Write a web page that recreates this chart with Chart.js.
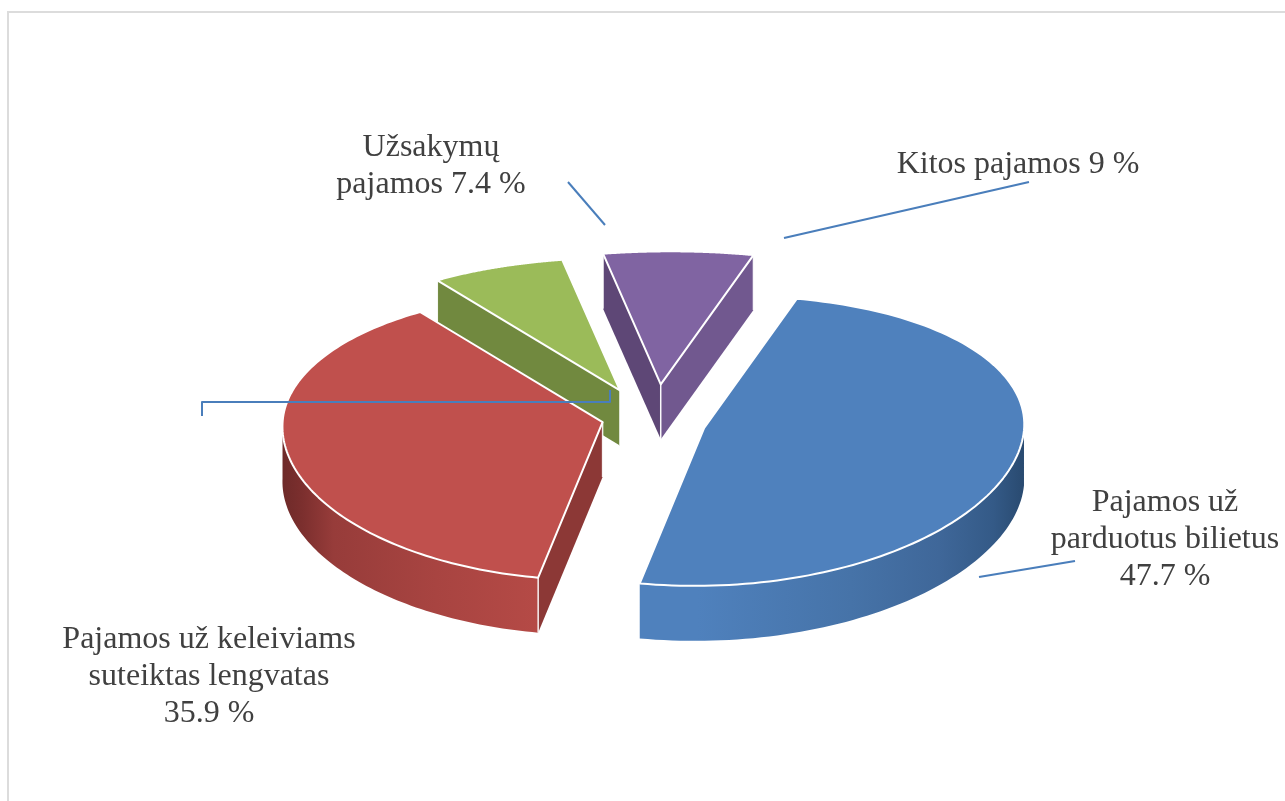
<!DOCTYPE html>
<html lang="lt">
<head>
<meta charset="utf-8">
<title>Pajamos</title>
<script src="https://cdn.jsdelivr.net/npm/chart.js@4"></script>
<style>
  html, body { margin: 0; height: 100%; background: #fff; overflow: hidden; }
  #frame { position: absolute; left: 7px; top: 11px; width: 1400px; height: 900px; border: 2px solid #dcdcdc; }
  #pie { position: absolute; left: 0; top: 0; }
</style>
</head>
<body>
<div id="frame"></div>
<canvas id="pie" width="1285" height="801"></canvas>
<script>
const categories = ['Pajamos už parduotus bilietus', 'Pajamos už keleiviams suteiktas lengvatas', 'Užsakymų pajamos', 'Kitos pajamos'];
const shares = [47.7, 35.9, 7.4, 9];

const topColors = ['#4f81bd', '#c0504d', '#9bbb59', '#8064a2'];
const explode = [50, 55, 76, 78];
// hand tuned, the green slice does not sit quite on its radial line in the original
const tipNudge = [[0, 0], [0, 0], [-3, 4], [0, 0]];
// side colours: radial wall at the start / end of each slice
const startWall = [null, '#8c3836', '#71893f', '#5e4776'];
const endWall = [null, null, null, '#71588f'];
const rimStops = [
  [[0, '#4f81bd'], [0.15, '#4f81bd'], [0.55, '#4673a8'], [0.78, '#3f6799'], [0.92, '#345a87'], [1, '#294a70']],
  [[0, '#6e2a29'], [0.08, '#7c2f2e'], [0.2, '#973c3a'], [0.6, '#a84441'], [1, '#b54a46']],
  [[0, '#71893f'], [1, '#71893f']],
  [[0, '#71588f'], [1, '#71588f']],
];
const drawOrder = [3, 2, 1, 0];
const DEPTH = 55;

// labels, with the wrapping and positions the original uses
const labelBlocks = [
  { x: 1165, y: 503, lines: ['Pajamos už', 'parduotus bilietus', shares[0] + ' %'] },
  { x: 209, y: 640, lines: ['Pajamos už keleiviams', 'suteiktas lengvatas', shares[1] + ' %'] },
  { x: 431, y: 148, lines: ['Užsakymų', 'pajamos ' + shares[2] + ' %'] },
  { x: 1018, y: 165, lines: ['Kitos pajamos ' + shares[3] + ' %'] },
];
const leaders = [
  [[979, 577], [1075, 561]],
  [[202, 416], [202, 402], [610, 402], [610, 390]],
  [[568, 182], [605, 225]],
  [[784, 238], [1029, 182]],
];

// the disc is seen in perspective: rear narrower than the front, and slightly skewed
function planeX(u, v, R) {
  const f = v < 0 ? 1 - 0.17 * v * v : 1 + 0.02 * v * v;
  return R * u * f - 9.5 * v * R / 320;
}
function rimY(v, R) {
  const y = v < 0 ? 163 * v - 30 * v * v * v : 146.5 * v + 11.5 * v * v;
  return y * R / 320;
}

const pie3d = {
  id: 'pie3d',
  beforeDatasetDraw(chart) {
    const { ctx } = chart;
    const arcs = chart.getDatasetMeta(0).data;
    drawOrder.forEach(i => {
      const arc = arcs[i];
      const R = arc.outerRadius;
      const s = arc.startAngle, e = arc.endAngle, mid = (s + e) / 2;
      // exploded slice: shift its tip outwards along the middle of the slice
      const ou = Math.cos(mid) * arc.options.offset / R, ov = Math.sin(mid) * arc.options.offset / R;
      const ox = planeX(ou, ov, R);
      const ax = arc.x + ox + tipNudge[i][0];
      const ay = arc.y + (146.5 * ov + 11.5 * ov * ov) * R / 320 + 0.07 * ox + tipNudge[i][1];
      const at = a => [ax + planeX(Math.cos(a), Math.sin(a), R), ay + rimY(Math.sin(a), R)];
      const N = 120, pts = [];
      for (let n = 0; n <= N; n++) pts.push(s + (e - s) * n / N);

      // outer rim: the part facing the viewer
      const front = pts.filter(a => Math.sin(a) >= 0);
      if (front.length > 1) {
        const xs = front.map(a => at(a)[0]);
        const g = ctx.createLinearGradient(Math.min(...xs), 0, Math.max(...xs), 0);
        rimStops[i].forEach(st => g.addColorStop(st[0], st[1]));
        ctx.beginPath();
        front.forEach((a, n) => { const p = at(a); n ? ctx.lineTo(p[0], p[1]) : ctx.moveTo(p[0], p[1]); });
        front.slice().reverse().forEach(a => { const p = at(a); ctx.lineTo(p[0], p[1] + DEPTH); });
        ctx.closePath();
        ctx.fillStyle = g;
        ctx.fill();
      }

      // radial walls
      const wall = (a, color) => {
        const p = at(a);
        ctx.beginPath();
        ctx.moveTo(ax, ay);
        ctx.lineTo(p[0], p[1]);
        ctx.lineTo(p[0], p[1] + DEPTH);
        ctx.lineTo(ax, ay + DEPTH);
        ctx.closePath();
        ctx.fillStyle = color;
        ctx.fill();
        ctx.beginPath();
        ctx.moveTo(ax, ay);
        ctx.lineTo(ax, ay + DEPTH);
        ctx.moveTo(p[0], p[1]);
        ctx.lineTo(p[0], p[1] + DEPTH);
        ctx.strokeStyle = 'rgba(255,255,255,.9)';
        ctx.lineWidth = 1.5;
        ctx.stroke();
      };
      if (startWall[i] && -Math.cos(s) > 0) wall(s, startWall[i]);
      if (endWall[i] && Math.cos(e) > 0) wall(e, endWall[i]);

      // top face
      ctx.beginPath();
      ctx.moveTo(ax, ay);
      pts.forEach(a => { const p = at(a); ctx.lineTo(p[0], p[1]); });
      ctx.closePath();
      ctx.fillStyle = arc.options.backgroundColor;
      ctx.fill();
      ctx.strokeStyle = '#fff';
      ctx.lineWidth = 2;
      ctx.lineJoin = 'round';
      ctx.stroke();
    });
    return false;
  },
  afterDraw(chart) {
    const { ctx } = chart;
    ctx.save();
    ctx.strokeStyle = '#4a7ebb';
    ctx.lineWidth = 2;
    leaders.forEach(line => {
      ctx.beginPath();
      line.forEach((p, n) => n ? ctx.lineTo(p[0], p[1]) : ctx.moveTo(p[0], p[1]));
      ctx.stroke();
    });
    ctx.fillStyle = '#404040';
    ctx.font = '32px "Liberation Serif"';
    ctx.textAlign = 'center';
    ctx.textBaseline = 'middle';
    labelBlocks.forEach(b => {
      b.lines.forEach((t, n) => ctx.fillText(t, b.x, b.y + n * 37));
    });
    ctx.restore();
  },
};

new Chart(document.getElementById('pie'), {
  type: 'pie',
  data: {
    labels: categories,
    datasets: [{ data: shares, backgroundColor: topColors, offset: explode, borderWidth: 0 }],
  },
  options: {
    responsive: false,
    animation: false,
    rotation: 18,
    radius: 320,
    layout: { padding: { left: 27, top: 37 } },
    plugins: { legend: { display: false }, tooltip: { enabled: false } },
  },
  plugins: [pie3d],
});
</script>
</body>
</html>
